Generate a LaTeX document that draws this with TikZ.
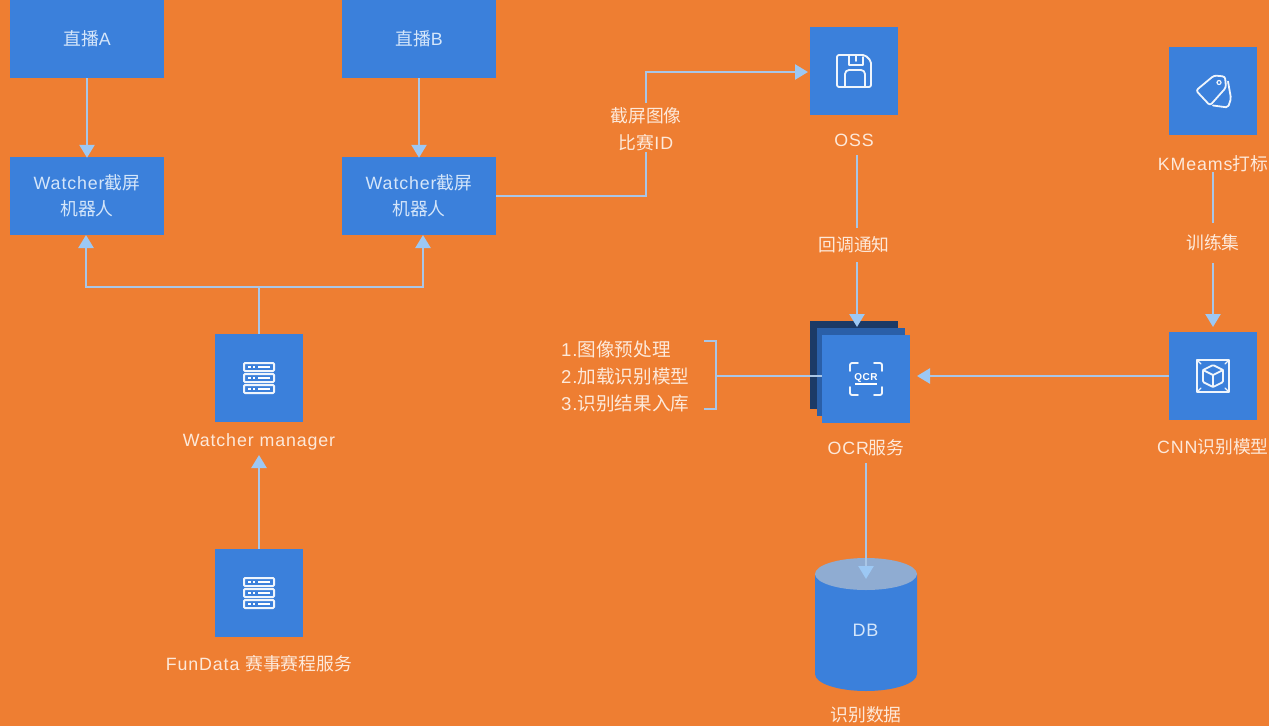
\documentclass[tikz,border=0pt]{standalone}
\usepackage{fontspec}
\setmainfont{Liberation Sans}[LetterSpace=5]
\newfontfamily\cjk{Noto Sans CJK SC}
\newcommand{\zh}[1]{{\cjk #1}}
\usetikzlibrary{arrows.meta,shapes.geometric}
\definecolor{bgorange}{HTML}{EE7E32}
\definecolor{boxblue}{HTML}{3B80DB}
\definecolor{midblue}{HTML}{2A5FA8}
\definecolor{darkblue}{HTML}{1C3A66}
\definecolor{dbtopc}{HTML}{8FACD2}
\definecolor{linec}{HTML}{A9C6E6}
\definecolor{tipc}{HTML}{9CC8F4}
\definecolor{lab}{HTML}{FDE9DA}
\definecolor{boxtxt}{HTML}{D5E6FA}
\tikzset{
  x=1pt,y=-1pt,
  box/.style={fill=boxblue,minimum width=154pt,minimum height=78pt,inner sep=0pt,text=boxtxt,font=\fontsize{17.8}{26}\selectfont,align=center},
  sq/.style={fill=boxblue,minimum width=88pt,minimum height=88pt,inner sep=0pt},
  lbl/.style={text=lab,font=\fontsize{17.8}{27}\selectfont,align=center,inner sep=0pt},
  conn/.style={draw=linec,line width=2.5pt},
  arr/.style={conn,-{Triangle[length=13pt,width=15pt,color=tipc]}},
  ico/.style={draw=white!92!boxblue,line width=1.8pt,line join=round,line cap=round}
}
\begin{document}
\begin{tikzpicture}
\useasboundingbox (0,0) rectangle (1269,726);
\fill[bgorange] (0,0) rectangle (1269,726);
% boxes
\node[box] (liveA) at (87,39) {\zh{直播}A};
\node[box] (liveB) at (419,39) {\zh{直播}B};
\node[box] (botA) at (87,196) {Watcher\zh{截屏}\\\zh{机器人}};
\node[box] (botB) at (419,196) {Watcher\zh{截屏}\\\zh{机器人}};
\node[sq] (mgr) at (259,378) {};
\node[sq] (fun) at (259,593) {};
\node[sq] (oss) at (854,71) {};
\node[sq] (tag) at (1213,90.5) {};
\node[sq] (cnn) at (1213,376) {};
\node[sq,fill=darkblue] (ocrback) at (854,365) {};
\node[sq,fill=midblue] (ocrmid) at (860.5,372) {};
\node[sq] (ocr) at (866,379) {};
% labels
\node[lbl] (lmgr) at (259,442) {Watcher manager};
\node[lbl] (lfun) at (259,664) {FunData \zh{赛事赛程服务}};
\node[lbl] (loss) at (854,140) {OSS};
\node[lbl] (ltag) at (1213,164) {KMeams\zh{打标}};
\node[lbl] (lcnn) at (1213,447) {CNN\zh{识别模型}};
\node[lbl] (locr) at (866,448) {OCR\zh{服务}};
\node[lbl] (ldata) at (866,715) {\zh{识别数据}};
\node[lbl] (lshot) at (646,129) {\zh{截屏图像}\\\zh{比赛}ID};
\node[lbl] (lcb) at (854,245) {\zh{回调通知}};
\node[lbl] (ltrain) at (1213,243) {\zh{训练集}};
\node[lbl,align=left,anchor=west,font=\fontsize{18.6}{27}\selectfont] (lsteps) at (561,376) {1.\zh{图像预处理}\\2.\zh{加载识别模型}\\3.\zh{识别结果入库}};
% cylinder
\path[fill=boxblue] (815,574) -- (815,674) arc[start angle=180,end angle=360,x radius=51,y radius=-17] -- (917,574) -- cycle;
\node[inner sep=0pt,minimum width=102pt,minimum height=32pt,shape=ellipse,fill=dbtopc] (dbtop) at (866,574) {};
\node[text=boxtxt,font=\fontsize{18}{20}\selectfont,inner sep=0pt] (db) at (865.5,630) {DB};
% helper coordinates
\coordinate (junc) at (259,287);
\coordinate (jA) at (86,287);
\coordinate (jB) at (423,287);
\coordinate (botAt) at (86,235);
\coordinate (botBt) at (423,235);
\coordinate (c1) at (646,196);
\coordinate (c2) at (646,72);
\coordinate (ossl) at (808,72);
\coordinate (br1) at (704,341);
\coordinate (br2) at (716,341);
\coordinate (br3) at (716,409);
\coordinate (br4) at (704,409);
\coordinate (brm) at (716,376);
\coordinate (ocrl) at (822,376);
\coordinate (ocrr) at (917,376);
\coordinate (cnnl) at (1169,376);
\coordinate (cbtop) at (857,155);
\coordinate (cba) at (857,228);
\coordinate (cbb) at (857,262);
\coordinate (cbin) at (857,327);
\coordinate (ocrb) at (866,463);
\coordinate (dbin) at (866,579);
\coordinate (trt) at (1213,172);
\coordinate (tra) at (1213,223);
\coordinate (trc) at (1213,263);
\coordinate (trb) at (1213,327);
\coordinate (mgrt) at (259,455);
% connectors
\draw[arr] (liveA.south) -- ([yshift=-1pt]botA.north);
\draw[arr] (liveB.south) -- ([yshift=-1pt]botB.north);
\draw[conn] (mgr.north) -- (junc);
\draw[arr] (junc) -- (jA) -- (botAt);
\draw[arr] (junc) -- (jB) -- (botBt);
\draw[arr] (fun.north) -- (mgrt);
\draw[conn] (botB.east) -- (c1) -- ([yshift=-1pt]lshot.south);
\draw[arr] ([yshift=4pt]lshot.north) -- (c2) -- (ossl);
\draw[conn] (cbtop) -- (cba);
\draw[arr] (cbb) -- (cbin);
\draw[conn] (trt) -- (tra);
\draw[arr] (trc) -- (trb);
\draw[arr] (cnnl) -- (ocrr);
\draw[conn] (br1) -- (br2) -- (br3) -- (br4);
\draw[conn] (brm) -- (ocrl);
\draw[arr] (ocrb) -- (dbin);
% server icons
\foreach \c in {mgr,fun}{
  \begin{scope}[shift={(\c.center)}]
    \foreach \dy in {-11,0,11}{
      \draw[ico,line width=2pt,rounded corners=1pt] (-15,\dy-4) rectangle (15,\dy+4);
      \fill[white] (-11,\dy-1.4) rectangle (-8.5,\dy+1.4);
      \fill[white] (-6.5,\dy-1.4) rectangle (-4,\dy+1.4);
      \fill[white] (-1,\dy-1.4) rectangle (11,\dy+1.4);
    }
  \end{scope}
}
% floppy icon
\begin{scope}[shift={(oss.center)}]
  \draw[ico,rounded corners=2pt] (-17,-16) -- (11,-16) -- (17,-10) -- (17,16) -- (-17,16) -- cycle;
  \draw[ico] (-5,-16) -- (-5,-6) -- (9,-6) -- (9,-14);
  \draw[ico] (2,-15) -- (2,-10);
  \draw[ico,rounded corners=4pt] (-9,16) -- (-9,-1) -- (11,-1) -- (11,16);
\end{scope}
% tag icon
\begin{scope}[shift={(tag.center)}]
  \draw[ico,rounded corners=2.5pt] (-17,0) -- (1,-15) -- (12,-14) -- (13,-3) -- (-3,15) -- cycle;
  \draw[ico,rounded corners=2pt] (15,-9) -- (18,8) -- (15,17) -- (0,15);
  \draw[ico,line width=1.2pt] (6,-8) circle[radius=2pt];
\end{scope}
% cube icon
\begin{scope}[shift={(cnn.center)}]
  \draw[ico] (-16,-16) rectangle (16,16);
  \draw[ico,rounded corners=1pt] (0,-11) -- (10,-6) -- (10,6) -- (0,11) -- (-10,6) -- (-10,-6) -- cycle;
  \draw[ico] (-10,-6) -- (0,-1) -- (10,-6) (0,-1) -- (0,11);
  \draw[ico,line width=1.2pt] (-16,-16) -- (-12,-12) (16,-16) -- (12,-12) (-16,16) -- (-12,12) (16,16) -- (12,12);
\end{scope}
% OCR icon
\begin{scope}[shift={(ocr.center)}]
  \draw[ico,rounded corners=2pt] (-16,-8) -- (-16,-16) -- (-8,-16);
  \draw[ico,rounded corners=2pt] (8,-16) -- (16,-16) -- (16,-8);
  \draw[ico,rounded corners=2pt] (-16,8) -- (-16,16) -- (-8,16);
  \draw[ico,rounded corners=2pt] (8,16) -- (16,16) -- (16,8);
  \node[text=white,font=\fontsize{10}{10}\bfseries\selectfont,inner sep=0pt] (ocrtxt) at (0,-1) {QCR};
  \draw[white,line width=1.3pt] (-11,5) -- (11,5);
\end{scope}
\end{tikzpicture}
\end{document}
